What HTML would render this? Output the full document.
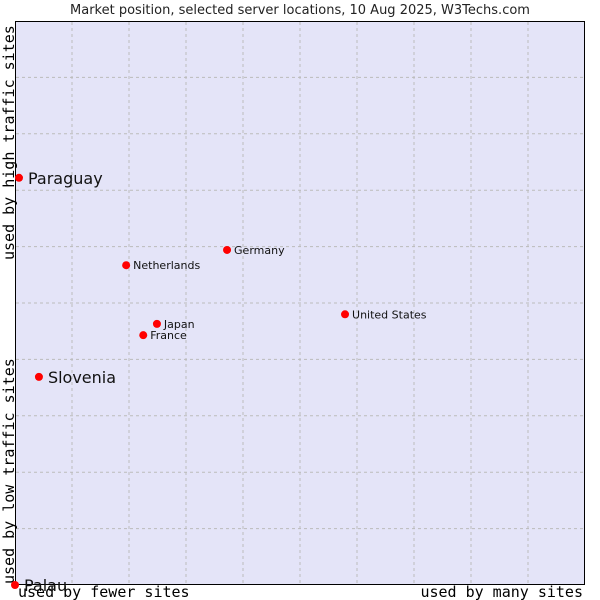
<!DOCTYPE html>
<html><head><meta charset="utf-8"><style>
body{margin:0;background:#fff;}
svg{display:block;font-family:"DejaVu Sans","Liberation Sans",sans-serif;}
</style></head><body>
<svg id="chart" width="600" height="600" viewBox="0 0 600 600">
<text x="300" y="14" text-anchor="middle" font-size="13" fill="#222">Market position, selected server locations, 10 Aug 2025, W3Techs.com</text>
<rect x="15.5" y="21.5" width="569" height="563" fill="#e4e4f8" stroke="#000" stroke-width="1"/>
<g id="grid"></g>
<text transform="translate(14,260) rotate(-90)" font-family="DejaVu Sans Mono, Liberation Mono, monospace" font-size="15" fill="#000">used by high traffic sites</text>
<text transform="translate(14,584) rotate(-90)" font-family="DejaVu Sans Mono, Liberation Mono, monospace" font-size="15" fill="#000">used by low traffic sites</text>
<text x="18" y="597" font-family="DejaVu Sans Mono, Liberation Mono, monospace" font-size="15" fill="#000">used by fewer sites</text>
<text x="583" y="597" text-anchor="end" font-family="DejaVu Sans Mono, Liberation Mono, monospace" font-size="15" fill="#000">used by many sites</text>
<g id="points"></g>
</svg>
<script>
const names=["Paraguay","Slovenia","Palau","Netherlands","Germany","Japan","France","United States"];
const xValues=[0.07,0.42,0.0,1.95,3.72,2.49,2.25,5.79];
const yValues=[7.22,3.69,0.0,5.67,5.94,4.63,4.43,4.80];
const big=[true,true,true,false,false,false,false,false];
const xTicks=[1,2,3,4,5,6,7,8,9];
const yTicks=[1,2,3,4,5,6,7,8,9];
const NS="http://www.w3.org/2000/svg";
const X=v=>15+v*57, Y=v=>585-v*56.4;
const g=document.getElementById('grid');
xTicks.forEach(t=>{const l=document.createElementNS(NS,'line');


l.setAttribute('x1',X(t));l.setAttribute('x2',X(t));l.setAttribute('y1',22);l.setAttribute('y2',584);
l.setAttribute('stroke','#bbb');l.setAttribute('stroke-dasharray','3,3');g.appendChild(l);});
yTicks.forEach(t=>{const l=document.createElementNS(NS,'line');


l.setAttribute('y1',Y(t));l.setAttribute('y2',Y(t));l.setAttribute('x1',16);l.setAttribute('x2',584);
l.setAttribute('stroke','#bbb');l.setAttribute('stroke-dasharray','3,3');g.appendChild(l);});
const p=document.getElementById('points');
names.forEach((n,i)=>{const cx=X(xValues[i]),cy=Y(yValues[i]);
const c=document.createElementNS(NS,'circle');


c.setAttribute('cx',cx);c.setAttribute('cy',cy);c.setAttribute('r',4);c.setAttribute('fill','#f00');p.appendChild(c);
const t=document.createElementNS(NS,'text');


t.setAttribute('x',cx+(big[i]?9:7));t.setAttribute('y',cy+(big[i]?6:4));
t.setAttribute('font-size',big[i]?16:11);t.setAttribute('fill','#111');t.textContent=n;p.appendChild(t);});
</script>
</body></html>
